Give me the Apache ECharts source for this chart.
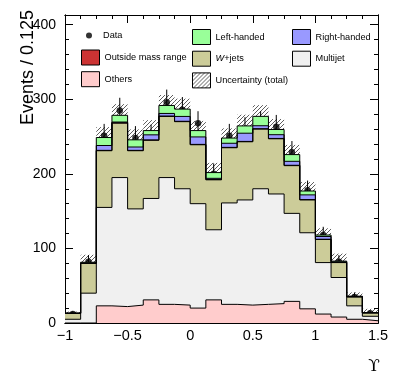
<!DOCTYPE html>
<html>
<head>
<meta charset="utf-8">
<script src="https://cdn.jsdelivr.net/npm/echarts@6/dist/echarts.min.js"></script>
<style>
  html, body { margin: 0; padding: 0; background: #fff; }
  #chart { width: 399px; height: 385px; }
</style>
</head>
<body>
<div id="chart"></div>
<script>
// bin edges of the upsilon distribution (width 0.125)
var binEdges = [-1, -0.875, -0.75, -0.625, -0.5, -0.375, -0.25, -0.125, 0, 0.125, 0.25,
  0.375, 0.5, 0.625, 0.75, 0.875, 1, 1.125, 1.25, 1.375, 1.5]

// stacked contributions, bottom to top
var others = [0, 0, 23, 22, 24, 31, 25, 24, 20, 31, 25, 24, 25, 26, 29, 19, 12, 8, 5, 3]
var multijet = [5, 40, 132, 173, 129, 136, 170, 156, 140, 94, 136, 141, 155, 147, 118, 102, 69, 53, 18, 6]
var wjets = [8, 40, 76, 73, 78, 78, 82, 90, 79, 67, 74, 78, 80, 74, 64, 44, 31, 20, 12, 4.5]
var outsideMass = [0, 0, 0.5, 0.5, 0.5, 0.5, 0.5, 0.5, 0.5, 0.5, 0.5, 0.5, 0.5, 0.5, 0.5, 0.5, 0.3, 0.3, 0, 0]
var rightHanded = [0, 0.5, 6.5, 1, 4.5, 6.8, 3.5, 6.5, 10, 1.5, 5.5, 11, 4, 5, 5.3, 6.3, 3.7, 0.7, 0.5, 0.3]
var leftHanded = [0.3, 1, 10.7, 9, 9.6, 5.7, 10.7, 9.8, 8.5, 7.7, 7, 9.8, 12.6, 7, 9, 5.2, 2, 1, 0.5, 0.2]
// total uncertainty on the prediction (half width of hatched band)
var uncertainty = [2, 10, 14, 15, 14, 14, 14, 14, 13, 13, 13, 15, 15, 14, 13, 12, 9, 10, 5, 5]

// observed data
var dataValues = [12, 82, 251, 285, 248, 250, 296, 286, 268, 200, 251, 260, 268, 263, 229, 178, 118, 82, 35, 13]
var dataErrors = [3.5, 9, 16, 17, 16, 16, 17, 17, 16, 14, 16, 16, 16, 16, 15, 13, 11, 9, 6, 3.6]

var yTicks = [0, 100, 200, 300, 400]
var xTicks = [-1, -0.5, 0, 0.5, 1, 1.5]

var font = 'Liberation Sans'

// cumulative sums for the stack
var components = [others, multijet, wjets, outsideMass, rightHanded, leftHanded]
var cumul = []
var run = binEdges.slice(1).map(function () { return 0 })
components.forEach(function (arr) {
  run = run.map(function (v, i) { return v + arr[i] })
  cumul.push(run.slice())
})

function steps (vals) {
  var pts = []
  vals.forEach(function (v, i) {
    pts.push([binEdges[i], v])
    pts.push([binEdges[i + 1], v])
  })
  return pts
}

// hatch pattern for the uncertainty band
var hatchCanvas = document.createElement('canvas')
hatchCanvas.width = 4
hatchCanvas.height = 4
var hc = hatchCanvas.getContext('2d')
hc.strokeStyle = '#333'
hc.lineWidth = 0.8
hc.beginPath()
hc.moveTo(-1, 5); hc.lineTo(5, -1)
hc.moveTo(-1, 1); hc.lineTo(1, -1)
hc.moveTo(3, 5); hc.lineTo(5, 3)
hc.stroke()
var hatch = { image: hatchCanvas, repeat: 'repeat' }

var stackStyle = [
  { name: 'Others', color: '#ffcccc', idx: 0 },
  { name: 'Multijet', color: '#f0f0f0', idx: 1 },
  { name: 'W+jets', color: '#cccc99', idx: 2 },
  { name: 'Outside mass range', color: '#cc3333', idx: 3 },
  { name: 'Right-handed', color: '#9999ff', idx: 4 },
  { name: 'Left-handed', color: '#99ff99', idx: 5 }
]

var series = []
// draw from the top of the stack down, so lower fills cover higher ones
stackStyle.slice().reverse().forEach(function (s) {
  series.push({
    name: s.name,
    type: 'line',
    xAxisIndex: 0,
    yAxisIndex: 0,
    data: steps(cumul[s.idx]),
    symbol: 'none',
    silent: true,
    itemStyle: { color: s.color },
    lineStyle: { color: '#000', width: 1 },
    areaStyle: { color: s.color, opacity: 1 },
    animation: false
  })
})

var total = cumul[5]
series.push({
  name: 'Uncertainty (total)',
  type: 'custom',
  xAxisIndex: 0,
  yAxisIndex: 0,
  itemStyle: { color: hatch },
  data: total.map(function (t, i) {
    return [binEdges[i], binEdges[i + 1], t - uncertainty[i], t + uncertainty[i]]
  }),
  encode: { x: [0, 1], y: [2, 3] },
  renderItem: function (params, api) {
    var p0 = api.coord([api.value(0), api.value(3)])
    var p1 = api.coord([api.value(1), api.value(2)])
    return {
      type: 'rect',
      shape: { x: p0[0], y: p0[1], width: p1[0] - p0[0], height: p1[1] - p0[1] },
      style: { fill: hatch, stroke: null }
    }
  },
  animation: false
})

// data error bars
series.push({
  name: 'DataErr',
  type: 'custom',
  xAxisIndex: 0,
  yAxisIndex: 0,
  data: dataValues.map(function (v, i) {
    return [(binEdges[i] + binEdges[i + 1]) / 2, v - dataErrors[i], v + dataErrors[i]]
  }),
  encode: { x: 0, y: [1, 2] },
  renderItem: function (params, api) {
    var a = api.coord([api.value(0), api.value(1)])
    var b = api.coord([api.value(0), api.value(2)])
    return {
      type: 'line',
      shape: { x1: a[0], y1: a[1], x2: b[0], y2: b[1] },
      style: { stroke: '#000', lineWidth: 1 }
    }
  },
  animation: false
})

series.push({
  name: 'Data',
  type: 'scatter',
  xAxisIndex: 0,
  yAxisIndex: 0,
  symbol: 'circle',
  symbolSize: 6.5,
  itemStyle: { color: '#000' },
  data: dataValues.map(function (v, i) {
    return [(binEdges[i] + binEdges[i + 1]) / 2, v]
  }),
  animation: false
})

function xLabel (v) {
  if (xTicks.indexOf(v) < 0) return ''
  return v < 0 ? '\u2212' + Math.abs(v) : String(v)
}
function yLabel (v) {
  return yTicks.indexOf(v) >= 0 ? String(v) : ''
}

var xBase = {
  type: 'value', min: -1, max: 1.5,
  axisLine: { show: true, onZero: false, lineStyle: { color: '#000', width: 1 } },
  splitLine: { show: false }
}
var yBase = {
  type: 'value', min: 0, max: 413,
  axisLine: { show: true, onZero: false, lineStyle: { color: '#000', width: 1 } },
  splitLine: { show: false }
}

var xAxes = [
  Object.assign({}, xBase, {
    position: 'bottom', interval: 0.5,
    axisTick: { inside: true, length: 8, lineStyle: { color: '#000' } },
    axisLabel: { formatter: xLabel, margin: 5, color: '#000', fontSize: 14.5, fontFamily: font }
  }),
  Object.assign({}, xBase, {
    position: 'bottom', interval: 0.125,
    axisTick: { inside: true, length: 4, lineStyle: { color: '#000' } },
    axisLabel: { show: false }
  }),
  Object.assign({}, xBase, {
    position: 'top', interval: 0.5,
    axisTick: { inside: true, length: 8, lineStyle: { color: '#000' } },
    axisLabel: { show: false }
  }),
  Object.assign({}, xBase, {
    position: 'top', interval: 0.125,
    axisTick: { inside: true, length: 4, lineStyle: { color: '#000' } },
    axisLabel: { show: false }
  })
]
var yAxes = [
  Object.assign({}, yBase, {
    position: 'left', interval: 100,
    axisTick: { inside: true, length: 8, lineStyle: { color: '#000' } },
    axisLabel: { formatter: yLabel, margin: 9, color: '#000', fontSize: 14, fontFamily: font }
  }),
  Object.assign({}, yBase, {
    position: 'left', interval: 20,
    axisTick: { inside: true, length: 4, lineStyle: { color: '#000' } },
    axisLabel: { show: false }
  }),
  Object.assign({}, yBase, {
    position: 'right', interval: 100,
    axisTick: { inside: true, length: 8, lineStyle: { color: '#000' } },
    axisLabel: { show: false }
  }),
  Object.assign({}, yBase, {
    position: 'right', interval: 20,
    axisTick: { inside: true, length: 4, lineStyle: { color: '#000' } },
    axisLabel: { show: false }
  })
]

var legendText = {
  fontSize: 9.2, fontFamily: font, color: '#000',
  rich: { i: { fontStyle: 'italic', fontSize: 9.2, fontFamily: font } }
}
var legendFmt = function (name) {
  return name === 'W+jets' ? '{i|W}+jets' : name
}
var boxStyle = { borderColor: '#000', borderWidth: 1 }

var chart = echarts.init(document.getElementById('chart'))
chart.setOption({
  animation: false,
  grid: { left: 65, right: 21, top: 15, bottom: 62, show: false },
  xAxis: xAxes,
  yAxis: yAxes,
  legend: [
    {
      data: ['Data'], left: 86, top: 31, itemWidth: 18, itemHeight: 6, icon: 'circle',
      selectedMode: false, textStyle: legendText, padding: 0
    },
    {
      data: ['Outside mass range', 'Others'], orient: 'vertical', left: 81, top: 49.5,
      itemWidth: 18, itemHeight: 15, itemGap: 5.7, icon: 'rect', itemStyle: boxStyle,
      selectedMode: false, textStyle: legendText, padding: 0
    },
    {
      data: ['Left-handed', 'W+jets', 'Uncertainty (total)'], orient: 'vertical', left: 192, top: 29,
      itemWidth: 18, itemHeight: 15, itemGap: 5.7, icon: 'rect', itemStyle: boxStyle,
      formatter: legendFmt, selectedMode: false, textStyle: legendText, padding: 0
    },
    {
      data: ['Right-handed', 'Multijet'], orient: 'vertical', left: 292, top: 29,
      itemWidth: 18, itemHeight: 15, itemGap: 5.7, icon: 'rect', itemStyle: boxStyle,
      selectedMode: false, textStyle: legendText, padding: 0
    }
  ],
  graphic: [
    {
      type: 'text', x: 28, y: 10, rotation: Math.PI / 2,
      style: { text: 'Events / 0.125', fill: '#000', font: '18px ' + font, align: 'right', verticalAlign: 'middle' }
    },
    {
      type: 'text', x: 374, y: 367,
      style: { text: '\u03d2', fill: '#000', font: '17px DejaVu Serif', align: 'center', verticalAlign: 'middle' }
    },
    {
      type: 'text', x: 140, y: 241,
      style: { text: 'ATLAS', fill: '#000', font: 'italic bold 14px ' + font, align: 'left', verticalAlign: 'middle' }
    },
    {
      type: 'text', x: 140, y: 265,
      style: {
        text: '{n|\u221as = 8 TeV, 20.2 fb}{s|-1}', align: 'left', verticalAlign: 'middle',
        rich: {
          n: { fontSize: 13.5, fontFamily: font, fill: '#000', lineHeight: 16, verticalAlign: 'bottom' },
          s: { fontSize: 8.5, fontFamily: font, fill: '#000', lineHeight: 16, verticalAlign: 'top' }
        }
      }
    },
    {
      type: 'text', x: 140, y: 286,
      style: {
        text: '{n|Same-sign region, \u03c4}{b|\u03bc}{n|\u03c4}{b|had}{n| channel}', align: 'left', verticalAlign: 'middle',
        rich: {
          n: { fontSize: 9.8, fontFamily: font, fill: '#000', lineHeight: 13, verticalAlign: 'middle' },
          b: { fontSize: 7, fontFamily: font, fill: '#000', lineHeight: 13, verticalAlign: 'bottom' }
        }
      }
    }
  ],
  series: series
})
</script>
</body>
</html>
